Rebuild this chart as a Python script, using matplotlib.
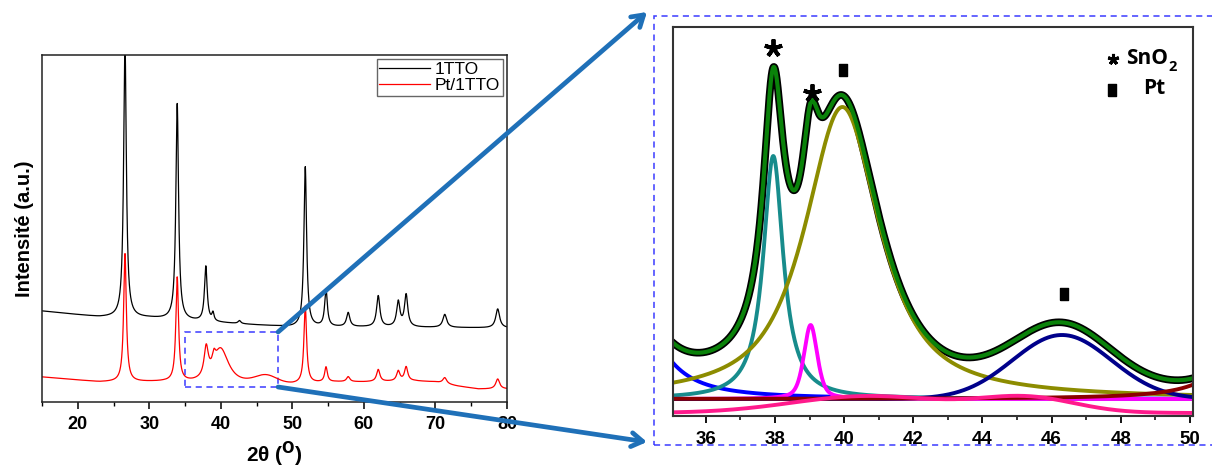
import numpy as np
import matplotlib
matplotlib.use("Agg")
import matplotlib.pyplot as plt
from matplotlib.patches import Rectangle, ConnectionPatch
from matplotlib.ticker import MultipleLocator

plt.rcParams['font.family'] = ['Liberation Sans', 'DejaVu Sans']

## ---- data ----
# left panel: XRD patterns, peaks given as (2theta, height above baseline, fwhm, lorentz fraction)
tto_base_x = [15, 23, 30, 36, 45, 50, 60, 80]
tto_base_y = [91, 85, 84, 81, 77, 75, 75, 74]
tto_pos = [26.6, 33.9, 37.9, 38.9, 42.6, 51.8, 54.7, 57.8, 62.0, 64.8, 65.9, 71.3, 78.7]
tto_h = [275, 216, 55, 8, 3, 160, 37, 14, 31, 25, 32, 13, 19]
tto_w = [0.45, 0.45, 0.45, 0.35, 0.45, 0.45, 0.45, 0.55, 0.55, 0.55, 0.55, 0.65, 0.65]
tto_eta = [1, 1, 1, 1, 1, 1, 1, 1, 1, 1, 1, 1, 1]

pt_base_x = [15, 23, 32, 36, 44, 50, 56, 60, 67, 70, 73, 76, 80]
pt_base_y = [25, 20, 20, 19, 19, 18, 20, 20, 21, 20, 16, 13, 13]
pt_pos = [26.6, 33.9, 37.95, 39.03, 39.95, 46.3, 51.8, 54.7, 57.8, 62.0, 64.8, 65.9, 71.3, 78.7]
pt_h = [128, 104, 29, 8.6, 34, 7.4, 77, 15, 5, 12, 10, 14, 6, 10]
pt_w = [0.45, 0.45, 0.7, 0.46, 2.6, 3.37, 0.45, 0.45, 0.55, 0.55, 0.55, 0.55, 0.65, 0.65]
pt_eta = [1, 1, 1, 0.5, 0.85, 0, 1, 1, 1, 1, 1, 1, 1, 1]

zoom_x = [35, 48]      # region shown on the right
zoom_y = [15, 70]

# right panel: peak fit of Pt/1TTO between 35 and 50 deg
fit_pos = [33.9, 37.95, 39.03, 39.95, 46.3, 51.8]
fit_h = [95, 243, 74, 292, 64, 80]
fit_w = [1.8, 0.7, 0.46, 2.6, 3.37, 1.6]
fit_eta = [1, 1, 0.5, 0.85, 0, 1]
fit_colors = ['#0000ff', '#178c8c', '#ff00ff', '#8c8c00', '#00008b', '#8b0000']
fit_base = 17

bg_pos = [40.7, 45.3]   # broad pink background
bg_h = [17, 15]
bg_w = [5.2, 3.3]
bg_base = 3

# phase markers
sno2_x = [37.94, 39.07]
sno2_y = [368, 323]
pt_mark_x = [39.97, 46.36]
pt_mark_y = [346, 122]


def pv(x, c, h, w, eta):
    # pseudo voigt peak
    lor = 1.0 / (1.0 + ((x - c) / (w / 2.0)) ** 2)
    gau = np.exp(-4 * np.log(2) * ((x - c) / w) ** 2)
    return h * (eta * lor + (1 - eta) * gau)


def pattern(x, bx, by, pos, h, w, eta):
    y = np.interp(x, bx, by)
    for i in range(len(pos)):
        y = y + pv(x, pos[i], h[i], w[i], eta[i])
    return y


fig = plt.figure(figsize=(12.12, 4.68), dpi=100)

## ---- left panel ----
ax1 = fig.add_axes([42/1212, 66/468, 465/1212, 347/468])
x1 = np.arange(15, 80.001, 0.01)
ax1.plot(x1, pattern(x1, tto_base_x, tto_base_y, tto_pos, tto_h, tto_w, tto_eta),
         color='k', lw=0.9, label='1TTO')
ax1.plot(x1, pattern(x1, pt_base_x, pt_base_y, pt_pos, pt_h, pt_w, pt_eta),
         color='#ff0000', lw=0.9, label='Pt/1TTO')
ax1.add_patch(Rectangle((zoom_x[0], zoom_y[0]), zoom_x[1]-zoom_x[0], zoom_y[1]-zoom_y[0],
                        fill=False, ec='#3b3bff', lw=1.1, ls=(0, (4, 3))))
ax1.set_xlim(15, 80)
ax1.set_ylim(0, 347)
ax1.set_yticks([])
ax1.xaxis.set_major_locator(MultipleLocator(10))
ax1.xaxis.set_minor_locator(MultipleLocator(5))
ax1.tick_params(axis='x', which='major', direction='out', length=5, width=1.1, pad=5)
ax1.tick_params(axis='x', which='minor', direction='out', length=3, width=1.0)
for lab in ax1.get_xticklabels():
    lab.set_fontweight('bold')
    lab.set_fontsize(13)
for s in ax1.spines.values():
    s.set_linewidth(1.1)
    s.set_color('#222222')
ax1.set_xlabel('2θ ($^{\\mathbf{O}}$)', fontsize=15, fontweight='bold', labelpad=5)
ax1.set_ylabel('Intensité (a.u.)', fontsize=14.5, fontweight='bold', labelpad=6)
leg = ax1.legend(loc='upper right', fontsize=12.5, fancybox=False, edgecolor='#666666',
                 framealpha=1, borderpad=0.15, handlelength=2.9, handletextpad=0.3,
                 labelspacing=0.05, borderaxespad=0.25)
leg.get_frame().set_linewidth(1.0)

## ---- right panel ----
ax2 = fig.add_axes([673/1212, 52/468, 520/1212, 389/468])
x2 = np.arange(35, 50.2, 0.005)
total = np.full_like(x2, fit_base, dtype=float)
for i in range(len(fit_pos)):
    total = total + pv(x2, fit_pos[i], fit_h[i], fit_w[i], fit_eta[i])

ax2.plot(x2, total, color='k', lw=5.5, solid_joinstyle='round')
for i in range(len(fit_pos)):
    ax2.plot(x2, fit_base + pv(x2, fit_pos[i], fit_h[i], fit_w[i], fit_eta[i]),
             color=fit_colors[i], lw=2.8)
bg = np.full_like(x2, bg_base, dtype=float)
for i in range(len(bg_pos)):
    bg = bg + pv(x2, bg_pos[i], bg_h[i], bg_w[i], 0)
ax2.plot(x2, bg, color='#ff1a8c', lw=2.8)
ax2.plot(x2, total, color='#0a820a', lw=3)

ax2.plot(sno2_x, sno2_y, ls='none', marker=(5, 2, 0), ms=13, mew=2.8, color='k')
rect = [(-0.3, -0.5), (0.3, -0.5), (0.3, 0.5), (-0.3, 0.5), (-0.3, -0.5)]
ax2.plot(pt_mark_x, pt_mark_y, ls='none', marker=rect, ms=9, color='k')

# legend of phases
ax2.plot([47.78], [357], marker=(5, 2, 0), ms=8, mew=2.2, color='k')
t = ax2.text(48.15, 358, 'SnO', fontsize=15, fontweight='bold', va='center',
             family=['Open Sans', 'DejaVu Sans'])
ax2.annotate('2', xy=(1.0, 0.08), xycoords=t, fontsize=10.5, fontweight='bold',
             ha='left', va='center', family=['Open Sans', 'DejaVu Sans'])
ax2.plot([47.75], [326], marker=rect, ms=9, color='k')
ax2.text(48.65, 328, 'Pt', fontsize=15, fontweight='bold', va='center',
         family=['Open Sans', 'DejaVu Sans'])

ax2.set_xlim(35.05, 50.09)
ax2.set_ylim(0, 389)
ax2.set_yticks([])
ax2.xaxis.set_major_locator(MultipleLocator(2))
ax2.xaxis.set_minor_locator(MultipleLocator(1))
ax2.tick_params(axis='x', which='major', direction='out', length=5, width=1.3, pad=6)
ax2.tick_params(axis='x', which='minor', direction='out', length=3, width=1.1)
for lab in ax2.get_xticklabels():
    lab.set_fontweight('bold')
    lab.set_fontsize(13.5)
for s in ax2.spines.values():
    s.set_linewidth(1.5)
    s.set_color('#333333')

## ---- zoom frame and arrows ----
fig.add_artist(Rectangle((654/1212, (468-445)/468), 1.0, (445-16)/468,
                         transform=fig.transFigure, fill=False, ec='#3b3bff',
                         lw=1.1, ls=(0, (4, 3)), clip_on=False))
for ya, yb in [(zoom_y[1], (468-12)/468), (zoom_y[0], (468-442)/468)]:
    con = ConnectionPatch(xyA=(zoom_x[1], ya), coordsA=ax1.transData,
                          xyB=(647/1212, yb), coordsB=fig.transFigure,
                          arrowstyle='->,head_length=0.8,head_width=0.5',
                          color='#1f70b8', lw=3.4)
    fig.add_artist(con)

fig.savefig('out.png', dpi=100)
